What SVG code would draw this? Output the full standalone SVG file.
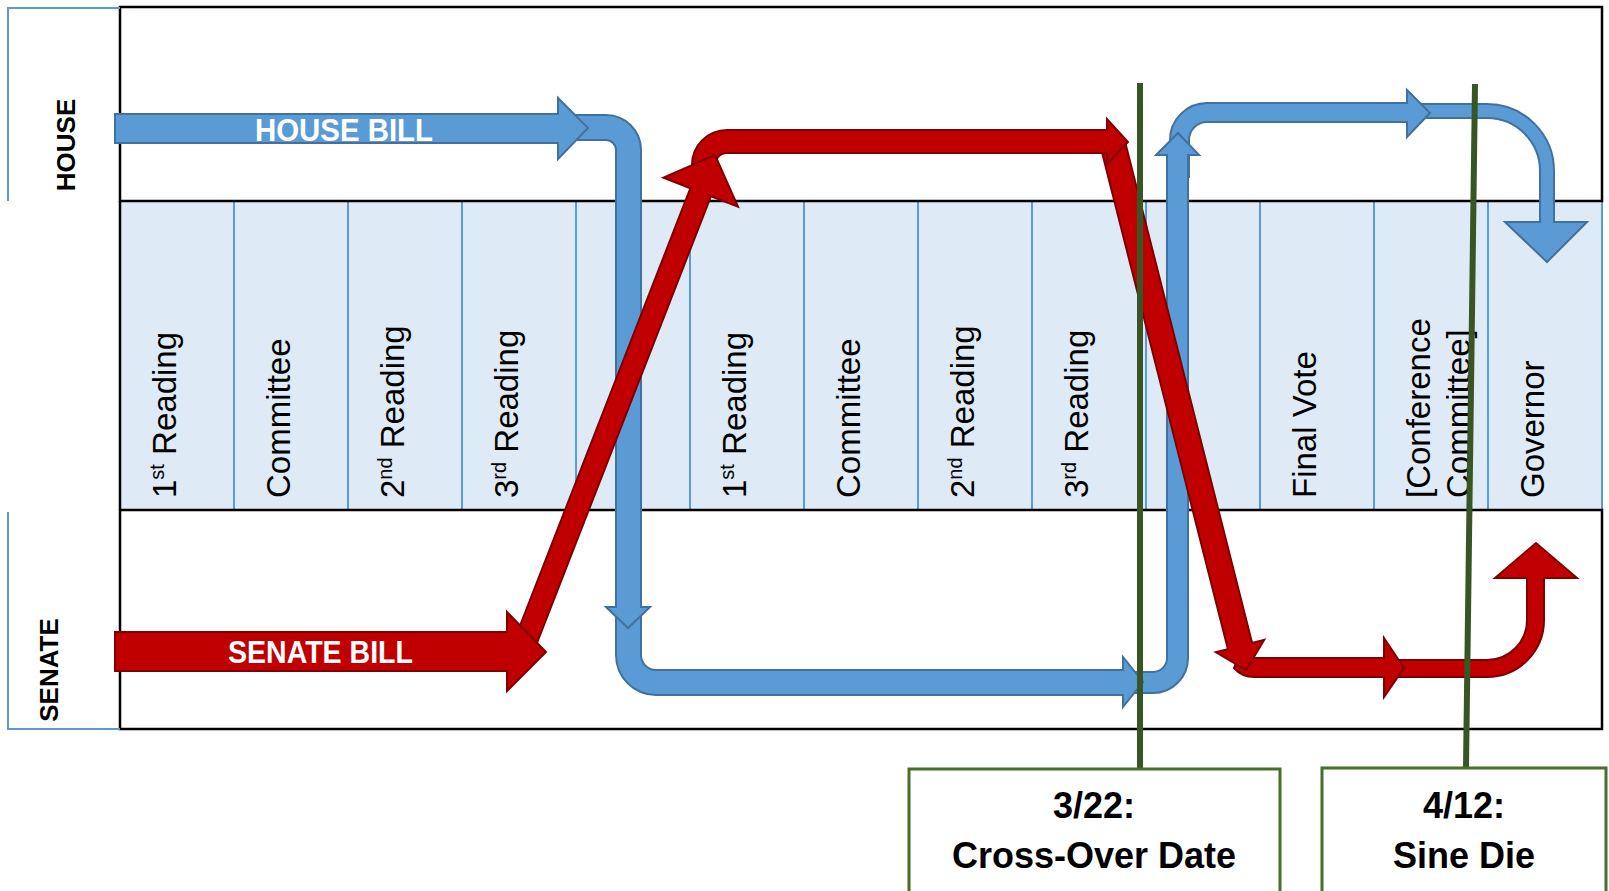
<svg xmlns="http://www.w3.org/2000/svg" width="1609" height="891" viewBox="0 0 1609 891">
<defs>
<style>
.box{fill:none;stroke:#000;stroke-width:2.5}
.col{stroke:#5B9BD5;stroke-width:2}
.brk{fill:none;stroke:#5B9BD5;stroke-width:2}
.lbl{font-family:"Liberation Sans",Arial,sans-serif;font-size:33px;fill:#000}
.side{font-family:"Liberation Sans",Arial,sans-serif;font-size:26px;font-weight:bold;fill:#000}
.bill{font-family:"Liberation Sans",Arial,sans-serif;font-size:31px;font-weight:bold;fill:#fff}
.blue{fill:#5B9BD5;stroke:#41719C;stroke-width:2;stroke-linejoin:miter}
.red{fill:#C00000;stroke:#7E0000;stroke-width:2;stroke-linejoin:miter}
.gline{stroke:#375623;stroke-width:6}
.gbox{fill:#fff;stroke:#476F2A;stroke-width:3}
.date{font-family:"Liberation Sans",Arial,sans-serif;font-size:36px;font-weight:bold;fill:#000;text-anchor:middle}
</style>
</defs>
<rect width="1609" height="891" fill="#fff"/>

<g id="frame">
<rect x="120" y="201" width="1482" height="309" fill="#DEEBF7"/>
<g class="col">
<line x1="234" y1="201" x2="234" y2="510"/>
<line x1="348" y1="201" x2="348" y2="510"/>
<line x1="462" y1="201" x2="462" y2="510"/>
<line x1="576" y1="201" x2="576" y2="510"/>
<line x1="690" y1="201" x2="690" y2="510"/>
<line x1="804" y1="201" x2="804" y2="510"/>
<line x1="918" y1="201" x2="918" y2="510"/>
<line x1="1032" y1="201" x2="1032" y2="510"/>
<line x1="1146" y1="201" x2="1146" y2="510"/>
<line x1="1260" y1="201" x2="1260" y2="510"/>
<line x1="1374" y1="201" x2="1374" y2="510"/>
<line x1="1488" y1="201" x2="1488" y2="510"/>
<line x1="1602" y1="201" x2="1602" y2="510"/>
</g>
<rect class="box" x="120" y="7" width="1482" height="194"/>
<rect class="box" x="120" y="510" width="1482" height="219"/>
<line x1="120" y1="201" x2="120" y2="510" stroke="#000" stroke-width="2.5"/>
<path class="brk" d="M120,8 H8 V201"/>
<path class="brk" d="M8,512 V729 H120"/>
</g>

<g id="chambers">
<text class="side" text-anchor="middle" transform="translate(75,145) rotate(-90)">HOUSE</text>
<text class="side" text-anchor="middle" transform="translate(58,670) rotate(-90)">SENATE</text>
</g>

<g id="stages" class="lbl">
<text transform="translate(176,498) rotate(-90)">1<tspan font-size="20" dy="-12">st</tspan><tspan dy="12"> Reading</tspan></text>
<text transform="translate(290,498) rotate(-90)">Committee</text>
<text transform="translate(404,498) rotate(-90)">2<tspan font-size="20" dy="-12">nd</tspan><tspan dy="12"> Reading</tspan></text>
<text transform="translate(518,498) rotate(-90)">3<tspan font-size="20" dy="-12">rd</tspan><tspan dy="12"> Reading</tspan></text>
<text transform="translate(746,498) rotate(-90)">1<tspan font-size="20" dy="-12">st</tspan><tspan dy="12"> Reading</tspan></text>
<text transform="translate(860,498) rotate(-90)">Committee</text>
<text transform="translate(974,498) rotate(-90)">2<tspan font-size="20" dy="-12">nd</tspan><tspan dy="12"> Reading</tspan></text>
<text transform="translate(1088,498) rotate(-90)">3<tspan font-size="20" dy="-12">rd</tspan><tspan dy="12"> Reading</tspan></text>
<text transform="translate(1316,498) rotate(-90)">Final Vote</text>
<text transform="translate(1430,498) rotate(-90)">[Conference<tspan x="0" dy="40">Committee]</tspan></text>
<text transform="translate(1544,498) rotate(-90)">Governor</text>
</g>

<g id="connectors">
<path class="blue" d="M1420,104 H1487 A67,67 0 0 1 1554,171 V222 H1587 L1547,262 L1505,222 H1540 V171 A53,53 0 0 0 1487,118 H1420 Z"/>
<path class="blue" d="M1170,177 V140 A37,37 0 0 1 1207,103 H1407 V90 L1430,113 L1407,137 V122 H1207 A18,18 0 0 0 1189,140 V177 Z"/>
<path class="blue" d="M1128,672 H1153 A14,14 0 0 0 1167,658 V155 H1156 L1178,133 L1199,155 H1188 V658 A35,35 0 0 1 1153,693 H1128 Z"/>
<path class="blue" d="M616,612 V655 A40,40 0 0 0 656,695 H1123 V707 L1143,682 L1123,657 V670 H656 A15,15 0 0 1 641,655 V612 Z"/>
<path class="blue" d="M576,115 H606 A35,35 0 0 1 641,150 V607 H650 L628,628 L606,607 H616 V150 A10,10 0 0 0 606,140 H576 Z"/>
<g id="house-bill">
<path class="blue" d="M115,114 H558 V98 L588,128 L558,159 V143 H115 Z"/>
<text class="bill" x="255" y="141" textLength="178" lengthAdjust="spacingAndGlyphs">HOUSE BILL</text>
</g>

<path class="red" d="M1395,660 H1487 A40,40 0 0 0 1527,620 V578 H1495 L1536,543 L1577,578 H1544 V620 A57,57 0 0 1 1487,677 H1395 Z"/>
<path class="red" d="M1238,658 H1384 V638 L1404,668 L1384,697 V677 H1254 Q1242,677 1234,668 Z"/>
<path class="red" d="M1100.9,148.1 L1227.9,649.1 L1215.8,652.2 L1246.1,670.2 L1264.2,639.9 L1252.1,642.9 L1125.1,141.9 Z"/>
<path class="red" d="M692,188 V165 A35,35 0 0 1 727,130 H1107 V119 L1128,142 L1107,164 V153 H727 A12,12 0 0 0 715,165 V188 Z"/>
<path class="red" d="M515.8,636.5 L690.4,188.2 L663.4,177.7 L715,155 L738,206.7 L711,196.2 L536.4,644.5 Z"/>
<g id="senate-bill">
<path class="red" d="M115,632 H507 V612 L546,652 L507,691 V671 H115 Z"/>
<text class="bill" x="228" y="663" textLength="185" lengthAdjust="spacingAndGlyphs">SENATE BILL</text>
</g>
</g>

<g id="crossover">
<line class="gline" x1="1140" y1="83" x2="1140" y2="769"/>
<rect class="gbox" x="909" y="769" width="371" height="130"/>
<text class="date" x="1094" y="818">3/22:</text>
<text class="date" x="1094" y="868">Cross-Over Date</text>
</g>

<g id="sinedie">
<line class="gline" x1="1475" y1="84" x2="1466" y2="768"/>
<rect class="gbox" x="1322" y="768" width="284" height="130"/>
<text class="date" x="1464" y="818">4/12:</text>
<text class="date" x="1464" y="868">Sine Die</text>
</g>
</svg>
